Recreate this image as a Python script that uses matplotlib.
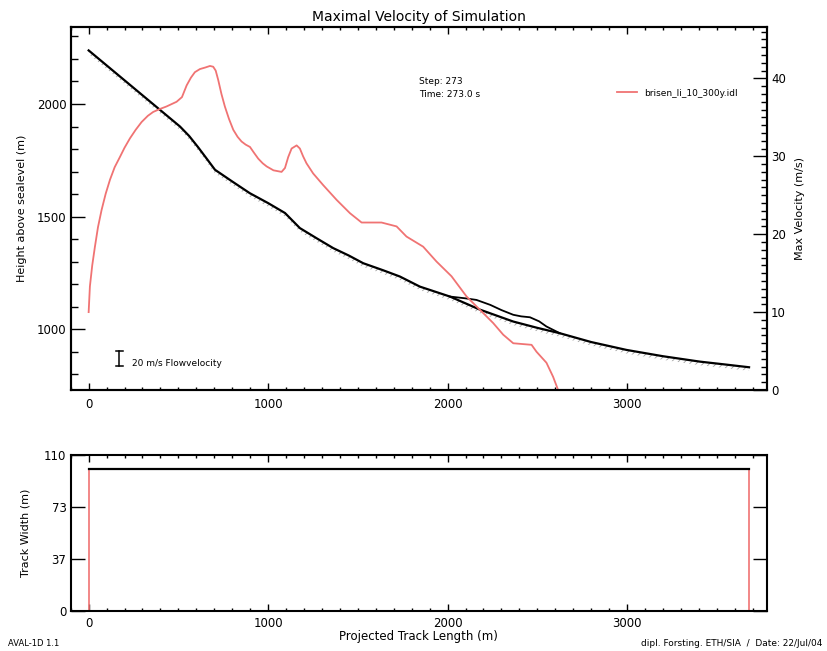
import matplotlib
matplotlib.use('Agg')
import matplotlib.pyplot as plt
import numpy as np
from matplotlib.ticker import MultipleLocator, FixedLocator, FixedFormatter

plt.rcParams['font.family'] = ['DejaVu Sans']
plt.rcParams['hatch.linewidth'] = 0.6

# ---------------- data ----------------
track_x = [0, 509, 560, 610, 660, 704, 800, 898, 1000, 1094, 1177, 1270, 1363, 1450, 1530, 1640,
           1734, 1846, 2013, 2180, 2366, 2500, 2626, 2800, 2997, 3200, 3406, 3550, 3680]
terrain_h = [2238, 1900, 1858, 1808, 1755, 1708, 1656, 1604, 1560, 1516, 1449, 1404, 1360, 1327,
             1293, 1262, 1234, 1189, 1145, 1087, 1034, 1006, 982, 943, 908, 880, 856, 843, 831]

flow_x = [2013, 2100, 2161, 2238, 2300, 2366, 2410, 2459, 2510, 2551, 2626]
flow_h = [1145, 1137, 1130, 1108, 1085, 1064, 1057, 1053, 1035, 1012, 982]

vel_x = [0, 7, 20, 35, 52, 72, 95, 119, 145, 174, 200, 230, 262, 295, 330, 360, 400, 434, 490,
         520, 546, 570, 592, 620, 650, 676, 694, 708, 722, 740, 759, 782, 806, 830, 852, 875,
         899, 920, 945, 970, 992, 1030, 1075, 1094, 1112, 1131, 1159, 1177, 1195, 1214, 1251,
         1307, 1382, 1456, 1521, 1632, 1716, 1771, 1864, 1938, 2022, 2106, 2180, 2254, 2310,
         2366, 2468, 2496, 2551, 2588, 2616, 3680]
vel_v = [10.0, 13.3, 16.0, 18.4, 20.9, 23.1, 25.2, 27.0, 28.6, 29.9, 31.1, 32.3, 33.4, 34.4,
         35.2, 35.7, 36.1, 36.4, 37.0, 37.6, 39.1, 40.1, 40.8, 41.2, 41.4, 41.6, 41.5, 41.0,
         39.8, 38.0, 36.4, 34.8, 33.4, 32.5, 31.9, 31.5, 31.2, 30.5, 29.7, 29.1, 28.7, 28.2,
         28.0, 28.5, 29.9, 31.0, 31.4, 31.0, 30.0, 29.1, 27.8, 26.3, 24.4, 22.7, 21.5, 21.5,
         21.0, 19.7, 18.4, 16.5, 14.6, 12.0, 10.3, 8.6, 7.1, 6.0, 5.8, 4.9, 3.5, 1.7, 0.0, 0.0]

width_x = [0, 0, 3680, 3680]
width_w = [0, 100, 100, 0]

width_ticks = [0, 36.67, 73.33, 110]
width_tick_labels = ['0', '37', '73', '110']

legend_label = 'brisen_li_10_300y.idl'
step_text = 'Step: 273'
time_text = 'Time: 273.0 s'

# ---------------- figure ----------------
W, H = 828, 651
fig = plt.figure(figsize=(W / 100, H / 100), dpi=100)

def fx(px):
    return px / W

def fy(py):
    return 1 - py / H

ax = fig.add_axes([fx(70.7), fy(390), fx(767) - fx(70.7), fy(27) - fy(390)])
ax2 = ax.twinx()
axb = fig.add_axes([fx(70.7), fy(610.7), fx(767) - fx(70.7), fy(455) - fy(610.7)])

red = '#f07373'

# hatch band under terrain
th = np.array(terrain_h)
ax.fill_between(track_x, th - 16, th, facecolor='none', edgecolor='#a0a0a0',
                hatch='/////', linewidth=0, zorder=1)
ax.plot(track_x, terrain_h, color='black', lw=1.6, zorder=3)
ax.plot(flow_x, flow_h, color='black', lw=1.3, zorder=3)

ax2.plot(vel_x, vel_v, color=red, lw=1.3, zorder=2, label=legend_label)

xlim = (-100, 3780)
ax.set_xlim(*xlim)
ax.set_ylim(730, 2342)
ax2.set_ylim(0, 46.6)

for a in (ax, axb):
    a.xaxis.set_major_locator(MultipleLocator(1000))
    a.xaxis.set_minor_locator(MultipleLocator(100))
    for s in a.spines.values():
        s.set_linewidth(1.5)
for s in ax2.spines.values():
    s.set_linewidth(1.5)

ax.yaxis.set_major_locator(MultipleLocator(500))
ax.yaxis.set_minor_locator(MultipleLocator(100))
ax2.yaxis.set_major_locator(MultipleLocator(10))
ax2.yaxis.set_minor_locator(MultipleLocator(1))

ax.tick_params(axis='x', which='major', direction='in', top=True, length=5, width=1, pad=6, labelsize=8.5)
ax.tick_params(axis='x', which='minor', direction='in', top=True, length=2.5, width=1)
ax.tick_params(axis='y', which='major', direction='in', right=False, length=10, width=1, pad=3, labelsize=8.5)
ax.tick_params(axis='y', which='minor', direction='in', right=False, length=5, width=1)
ax2.tick_params(axis='y', which='major', direction='in', length=10, width=1, pad=3, labelsize=8.5)
ax2.tick_params(axis='y', which='minor', direction='in', length=4.5, width=1)

ax.set_ylabel('Height above sealevel (m)', fontsize=8)
ax.yaxis.set_label_coords(-0.063, 0.5)
ax2.set_ylabel('Max Velocity (m/s)', fontsize=8)
ax2.yaxis.set_label_coords(1.040, 0.5)

# legend
ax2.legend(loc='center left', bbox_to_anchor=(fx(617), fy(93)), bbox_transform=fig.transFigure,
           frameon=False, fontsize=6.5, handlelength=2.2, handletextpad=0.8, borderpad=0,
           borderaxespad=0)

fig.text(fx(419), fy(81.7), step_text, fontsize=6.5, va='center', ha='left')
fig.text(fx(419), fy(94.3), time_text, fontsize=6.5, va='center', ha='left')

fig.text(fx(419), fy(17), 'Maximal Velocity of Simulation', fontsize=10, ha='center', va='center')

# flow velocity scale marker
ax.plot([0.0695, 0.0695], [0.066, 0.107], transform=ax.transAxes, color='black', lw=1.1)
ax.plot([0.0645, 0.0745], [0.066, 0.066], transform=ax.transAxes, color='black', lw=1.1)
ax.plot([0.0645, 0.0745], [0.107, 0.107], transform=ax.transAxes, color='black', lw=1.1)
fig.text(fx(132), fy(363.5), '20 m/s Flowvelocity', fontsize=6.5, va='center', ha='left')

# ---------------- bottom panel ----------------
axb.plot(width_x, width_w, color=red, lw=1.2, zorder=2)
axb.plot(width_x[1:3], width_w[1:3], color='black', lw=1.6, zorder=3)
axb.set_xlim(*xlim)
axb.set_ylim(0, 110)
axb.yaxis.set_major_locator(FixedLocator(width_ticks))
axb.yaxis.set_major_formatter(FixedFormatter(width_tick_labels))
axb.tick_params(axis='x', which='major', direction='in', top=True, length=5, width=1, pad=4.5, labelsize=8.5)
axb.tick_params(axis='x', which='minor', direction='in', top=True, length=2.5, width=1)
axb.tick_params(axis='y', which='major', direction='in', right=True, length=10, width=1, pad=3, labelsize=8.5)
axb.set_ylabel('Track Width (m)', fontsize=8)
axb.yaxis.set_label_coords(-0.058, 0.5)
axb.set_xlabel('Projected Track Length (m)', fontsize=8.5)
axb.xaxis.set_label_coords(0.5, -0.125)

fig.text(fx(8), fy(644), 'AVAL-1D 1.1', fontsize=6, va='center', ha='left')
fig.text(fx(822), fy(643), 'dipl. Forsting. ETH/SIA  /  Date: 22/Jul/04', fontsize=6.5,
         va='center', ha='right')

fig.savefig('out.png', dpi=100)
